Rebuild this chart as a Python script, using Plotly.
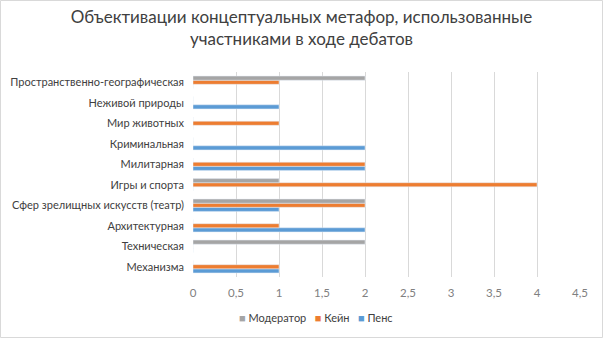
import plotly.graph_objects as go

categories = ["Механизма", "Техническая", "Архитектурная", "Сфер зрелищных искусств (театр)",
              "Игры и спорта", "Милитарная", "Криминальная", "Мир животных",
              "Неживой природы", "Пространственно-географическая"]
moderator = [0, 2, 0, 2, 1, 0, 0, 0, 0, 2]
kein = [1, 0, 1, 2, 4, 2, 0, 1, 0, 1]
pence = [1, 0, 2, 1, 0, 2, 2, 0, 1, 0]
x_ticks = [0, 0.5, 1, 1.5, 2, 2.5, 3, 3.5, 4, 4.5]
x_tick_labels = ["0", "0,5", "1", "1,5", "2", "2,5", "3", "3,5", "4", "4,5"]

colors = {"Модератор": "#a5a5a5", "Кейн": "#ed7d31", "Пенс": "#5b9bd5"}

fig = go.Figure()
fig.add_trace(go.Bar(y=categories, x=pence, name="Пенс", orientation="h", marker_color=colors["Пенс"]))
fig.add_trace(go.Bar(y=categories, x=kein, name="Кейн", orientation="h", marker_color=colors["Кейн"]))
fig.add_trace(go.Bar(y=categories, x=moderator, name="Модератор", orientation="h", marker_color=colors["Модератор"]))

fig.update_layout(
    width=603, height=338,
    margin=dict(l=193, r=23, t=72, b=61),
    paper_bgcolor="white", plot_bgcolor="white",
    barmode="group", bargap=0.4, bargroupgap=0,
    font=dict(family="Lato, Open Sans, sans-serif", color="#404040"),
    title=dict(text="Объективации концептуальных метафор, использованные<br>участниками в ходе дебатов",
               x=0.5, xanchor="center", y=0.932, yanchor="top",
               font=dict(size=17, color="#404040")),
    xaxis=dict(range=[0, 4.5], tickvals=x_ticks, ticktext=x_tick_labels,
               showgrid=True, gridcolor="#d9d9d9", gridwidth=1, zeroline=False,
               tickfont=dict(size=11.5, color="#808080"), ticks="", showline=False,
               ticklabelstandoff=7, automargin=False),
    yaxis=dict(showgrid=False, zeroline=False, ticks="", showline=False,
               tickfont=dict(size=11, color="#404040"), ticklabelstandoff=8,
               automargin=False),
    showlegend=False,
)

legend_text = "   ".join(
    f"<span style='color:{colors[n]}'>■</span> {n}" for n in ["Модератор", "Кейн", "Пенс"]
)
fig.add_annotation(text=legend_text, xref="paper", yref="paper",
                   x=(316 - 193) / 387, y=-(317 - 277) / 205, xanchor="center", yanchor="middle",
                   showarrow=False, font=dict(size=11, color="#404040"))

fig.add_shape(type="rect", xref="paper", yref="paper", x0=-192.5/387, x1=1+22.5/387,
              y0=-60.5/205, y1=1+71.5/205, line=dict(color="#d9d9d9", width=1))

fig.write_html("out.html", config={"displayModeBar": False},
               post_script="document.body.style.margin='0';")
